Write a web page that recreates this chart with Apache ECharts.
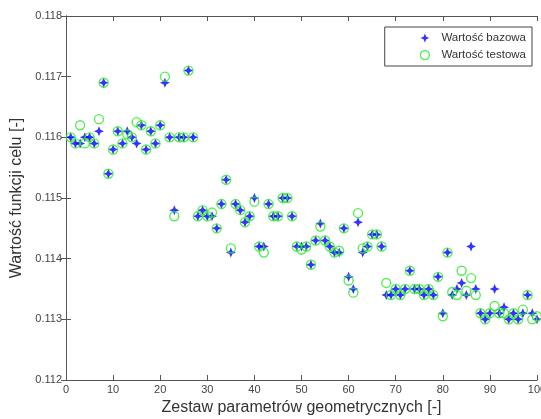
<!DOCTYPE html>
<html>
<head>
  <meta charset="UTF-8">
  <title>Wartość funkcji celu</title>
  <style>
    body { margin: 0; background: #fff; }
    #main { width: 541px; height: 419px; }
  </style>
</head>
<body>
  <div id="main"></div>
  <script src="https://cdn.jsdelivr.net/npm/echarts@6/dist/echarts.min.js"></script>
  <script>
    const seriesNames = ['Wartość bazowa', 'Wartość testowa'];

    const zestaw = [
      1, 2, 3, 4, 5, 6, 7, 8, 9, 10, 11, 12, 13, 14, 15, 16, 17, 18, 19, 20,
      21, 22, 23, 24, 25, 26, 27, 28, 29, 30, 31, 32, 33, 34, 35, 36, 37, 38, 39, 40,
      41, 42, 43, 44, 45, 46, 47, 48, 49, 50, 51, 52, 53, 54, 55, 56, 57, 58, 59, 60,
      61, 62, 63, 64, 65, 66, 67, 68, 69, 70, 71, 72, 73, 74, 75, 76, 77, 78, 79, 80,
      81, 82, 83, 84, 85, 86, 87, 88, 89, 90, 91, 92, 93, 94, 95, 96, 97, 98, 99, 100
    ];

    const bazowa = [
      0.1160, 0.1159, 0.1159, 0.1160, 0.1160, 0.1159, 0.1161, 0.1169, 0.1154, 0.1158,
      0.1161, 0.1159, 0.1161, 0.1160, 0.1159, 0.1162, 0.1158, 0.1161, 0.1159, 0.1162,
      0.1169, 0.1160, 0.1148, 0.1160, 0.1160, 0.1171, 0.1160, 0.1147, 0.1148, 0.1147,
      0.1147, 0.1145, 0.1149, 0.1153, 0.1141, 0.1149, 0.1148, 0.1146, 0.1147, 0.1150,
      0.1142, 0.1142, 0.1149, 0.1147, 0.1147, 0.1150, 0.1150, 0.1147, 0.1142, 0.1142,
      0.1142, 0.1139, 0.1143, 0.11458, 0.1143, 0.1142, 0.1141, 0.1141, 0.1145, 0.1137,
      0.1135, 0.1146, 0.1141, 0.1142, 0.1144, 0.1144, 0.1142, 0.1134, 0.1134, 0.1135,
      0.1134, 0.1135, 0.1138, 0.1135, 0.1135, 0.1134, 0.1135, 0.1134, 0.1137, 0.1131,
      0.1141, 0.1134, 0.1135, 0.1136, 0.1134, 0.1142, 0.1135, 0.1131, 0.1130, 0.1131,
      0.1135, 0.1131, 0.1132, 0.1130, 0.1131, 0.1130, 0.1131, 0.1134, 0.1131, 0.1130
    ];

    const testowa = [
      0.1160, 0.1159, 0.1162, 0.1159, 0.1160, 0.1159, 0.1163, 0.1169, 0.1154, 0.1158,
      0.1161, 0.1159, 0.11605, 0.1160, 0.11625, 0.1162, 0.1158, 0.1161, 0.1159, 0.1162,
      0.1170, 0.1160, 0.1147, 0.1160, 0.1160, 0.1171, 0.1160, 0.1147, 0.1148, 0.1147,
      0.11476, 0.1145, 0.1149, 0.1153, 0.11417, 0.1149, 0.1148, 0.1146, 0.1147, 0.11494,
      0.1142, 0.1141, 0.1149, 0.1147, 0.1147, 0.1150, 0.1150, 0.1147, 0.1142, 0.11415,
      0.1142, 0.1139, 0.1143, 0.11453, 0.1143, 0.1142, 0.1141, 0.11413, 0.1145, 0.11364,
      0.11344, 0.11475, 0.11417, 0.1142, 0.1144, 0.1144, 0.1142, 0.1136, 0.1134, 0.1135,
      0.1134, 0.1135, 0.1138, 0.1135, 0.1135, 0.1134, 0.1135, 0.1134, 0.1137, 0.11305,
      0.1141, 0.11345, 0.1134, 0.1138, 0.11347, 0.11368, 0.1134, 0.1131, 0.1130, 0.1131,
      0.11322, 0.1131, 0.1131, 0.1130, 0.1131, 0.1130, 0.11316, 0.1134, 0.1130, 0.11305
    ];

    const plusStar = 'path://M5,0 L6.5,3.5 L10,5 L6.5,6.5 L5,10 L3.5,6.5 L0,5 L3.5,3.5 Z';
    const font = 'Liberation Sans';
    const axisGray = '#555';
    const blue = '#0000ff';
    const green = '#2ee82e';

    const chart = echarts.init(document.getElementById('main'));

    const tickStyle = { inside: true, length: 5, lineStyle: { color: axisGray } };
    const lineStyle = { lineStyle: { color: axisGray, width: 1 } };
    const ringStyle = { color: 'rgba(0,0,0,0)', borderColor: green, borderWidth: 1.4 };

    chart.setOption({
      animation: false,
      textStyle: { fontFamily: font },
      grid: { left: 66, right: 4, top: 16, bottom: 39, outerBoundsMode: 'none' },
      legend: {
        data: [
          { name: seriesNames[0], icon: plusStar, itemStyle: { color: blue } },
          { name: seriesNames[1], icon: 'circle', itemStyle: ringStyle }
        ],
        orient: 'vertical',
        right: 9,
        top: 27,
        itemWidth: 9,
        itemHeight: 9,
        itemGap: 5,
        padding: [5, 6, 5, 35],
        borderColor: '#444',
        borderWidth: 1,
        backgroundColor: '#fff',
        textStyle: { fontFamily: font, fontSize: 11.5, color: '#333', padding: [0, 0, 0, 7] }
      },
      xAxis: [{
        type: 'value',
        min: 0,
        max: 100,
        interval: 10,
        name: 'Zestaw parametrów geometrycznych [-]',
        nameLocation: 'middle',
        nameGap: 20,
        nameTextStyle: { fontSize: 16, color: '#333', fontFamily: font },
        axisLine: lineStyle,
        axisTick: tickStyle,
        axisLabel: { fontSize: 11, color: '#444', margin: 4 },
        splitLine: { show: false }
      }, {
        type: 'value',
        position: 'top',
        min: 0,
        max: 100,
        interval: 10,
        axisLine: lineStyle,
        axisTick: tickStyle,
        axisLabel: { show: false },
        splitLine: { show: false }
      }],
      yAxis: [{
        type: 'value',
        min: 0.112,
        max: 0.118,
        interval: 0.001,
        name: 'Wartość funkcji celu [-]',
        nameLocation: 'middle',
        nameGap: 36,
        nameTextStyle: { fontSize: 16, color: '#333', fontFamily: font },
        axisLine: lineStyle,
        axisTick: tickStyle,
        axisLabel: { fontSize: 11, color: '#444', margin: 4, formatter: v => v.toFixed(3) },
        splitLine: { show: false }
      }, {
        type: 'value',
        position: 'right',
        min: 0.112,
        max: 0.118,
        interval: 0.001,
        axisLine: lineStyle,
        axisTick: tickStyle,
        axisLabel: { show: false },
        splitLine: { show: false }
      }],
      series: [{
        name: seriesNames[0],
        type: 'scatter',
        symbol: plusStar,
        symbolSize: 10,
        itemStyle: { color: blue },
        data: zestaw.map((x, i) => [x, bazowa[i]])
      }, {
        name: seriesNames[1],
        type: 'scatter',
        symbol: 'circle',
        symbolSize: 9,
        itemStyle: ringStyle,
        data: zestaw.map((x, i) => [x, testowa[i]])
      }]
    });
  </script>
</body>
</html>
